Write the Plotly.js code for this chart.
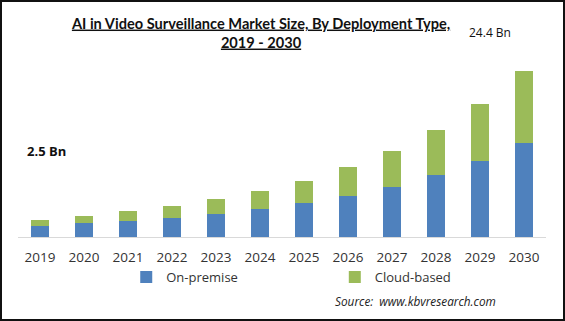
<!DOCTYPE html>
<html>
<head>
<meta charset="utf-8">
<script src="https://cdn.plot.ly/plotly-3.0.1.min.js"></script>
<style>
  html, body { margin: 0; padding: 0; background: #fff; }
  #wrap { position: relative; width: 565px; height: 321px; }
  #chart { width: 565px; height: 321px; }
  #frame { position: absolute; left: 0; top: 0; width: 565px; height: 321px; box-sizing: border-box; border: 2px solid #111; pointer-events: none; }
</style>
</head>
<body>
<div id="wrap"><div id="chart"></div><div id="frame"></div></div>
<script>
const years = ['2019','2020','2021','2022','2023','2024','2025','2026','2027','2028','2029','2030'];
const onPremise = [1.6, 2.0, 2.35, 2.8, 3.4, 4.1, 5.0, 6.0, 7.35, 9.1, 11.2, 13.8];
const cloudBased = [0.9, 1.1, 1.45, 1.8, 2.2, 2.6, 3.2, 4.3, 5.3, 6.6, 8.3, 10.6];
const seriesNames = ['On-premise', 'Cloud-based'];
const labelFirst = '2.5 Bn';
const labelLast = '24.4 Bn';

const traces = [
  { type: 'bar', name: seriesNames[0], x: years, y: onPremise, marker: { color: '#4f81bd' }, legend: 'legend', hoverinfo: 'x+y+name' },
  { type: 'bar', name: seriesNames[1], x: years, y: cloudBased, marker: { color: '#9bbb59' }, legend: 'legend2', hoverinfo: 'x+y+name' }
];

const legendFont = { family: 'Open Sans, sans-serif', size: 13, color: '#333' };
const layout = {
  width: 565, height: 321,
  margin: { l: 18, r: 19, t: 60, b: 84 },
  paper_bgcolor: '#fff', plot_bgcolor: '#fff',
  barmode: 'stack', bargap: 0.59,
  showlegend: true,
  title: {
    text: '<u>AI in Video Surveillance Market Size, By Deployment Type,</u><br><u>2019 - 2030</u>',
    font: { family: 'Lato, sans-serif', size: 14.6, color: '#111', weight: 'bold' },
    x: 0.462, xanchor: 'center', xref: 'container',
    y: 0.911, yanchor: 'top'
  },
  xaxis: {
    type: 'category',
    showline: true, linecolor: '#d9d9d9', linewidth: 1,
    showgrid: false, zeroline: false,
    ticks: '', tickfont: { family: 'Open Sans, sans-serif', size: 13.5, color: '#333' },
    ticklabelstandoff: 8, fixedrange: true
  },
  yaxis: { visible: false, range: [0, 26], fixedrange: true },
  legend: { orientation: 'h', x: 0.205, xanchor: 'left', y: -0.226, yanchor: 'middle', font: legendFont, bgcolor: 'rgba(0,0,0,0)', borderwidth: 0 },
  legend2: { orientation: 'h', x: 0.6, xanchor: 'left', y: -0.226, yanchor: 'middle', font: legendFont, bgcolor: 'rgba(0,0,0,0)', borderwidth: 0 },
  annotations: [
    { text: labelFirst, xref: 'paper', yref: 'paper', x: (25 - 18) / 528, y: (237 - 151) / 177, xanchor: 'left', yanchor: 'middle', showarrow: false,
      font: { family: 'Open Sans, sans-serif', size: 13, color: '#111', weight: 'bold' } },
    { text: labelLast, xref: 'paper', yref: 'paper', x: (467 - 18) / 528, y: (237 - 33) / 177, xanchor: 'left', yanchor: 'middle', showarrow: false,
      font: { family: 'Open Sans, sans-serif', size: 12, color: '#111' } },
    { text: '<i>Source:  www.kbvresearch.com</i>', xref: 'paper', yref: 'paper', x: (333 - 18) / 528, y: (237 - 301) / 177, xanchor: 'left', yanchor: 'middle', showarrow: false,
      font: { family: 'Open Sans, sans-serif', size: 11.8, color: '#222' } }
  ]
};

Plotly.newPlot('chart', traces, layout, { displayModeBar: false, staticPlot: false });
</script>
</body>
</html>
